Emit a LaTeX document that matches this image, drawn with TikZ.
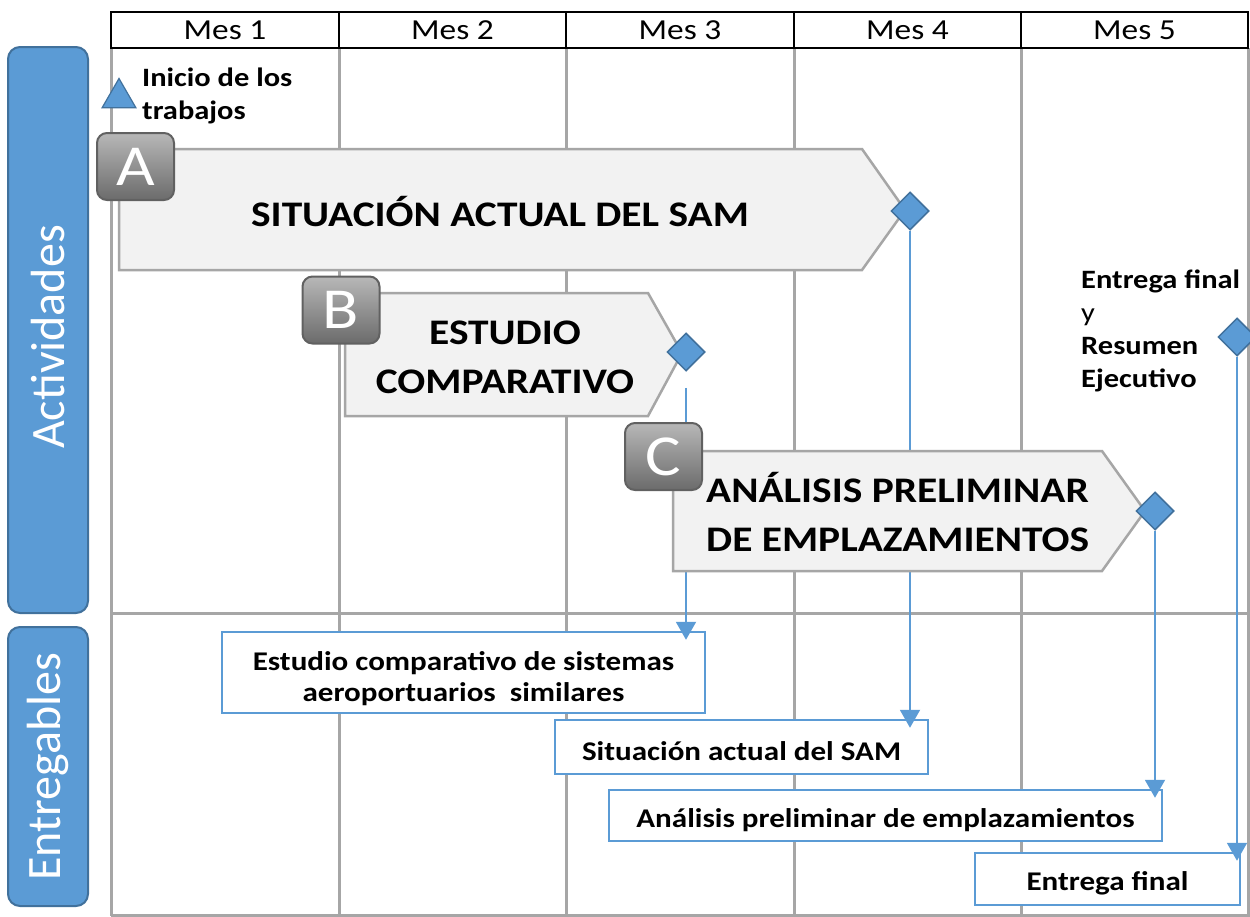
\documentclass[tikz,border=0pt]{standalone}
\usepackage{fontspec}
\setmainfont{Carlito}[FakeStretch=1.15]
\newfontfamily\plainfont{Carlito}
\usetikzlibrary{shapes.geometric,arrows.meta}
\definecolor{blu}{HTML}{5B9BD5}
\definecolor{bludark}{HTML}{41719C}
\definecolor{gridgray}{HTML}{A6A6A6}
\definecolor{shapefill}{HTML}{F2F2F2}
\pgfdeclarelayer{bg}
\pgfdeclarelayer{mid}
\pgfsetlayers{bg,mid,main}
\newcommand{\dstrut}[1]{\rule{0pt}{#1}}
\begin{document}
\begin{tikzpicture}[x=1pt,y=-1pt,
  gridline/.style={draw=gridgray,line width=3pt},
  hdr/.style={draw=black,line width=2.5pt,fill=white,minimum height=36pt,inner sep=0pt,
    font=\fontsize{29}{30}\selectfont},
  side/.style={rotate=90,draw=bludark,line width=2pt,fill=blu,rounded corners=12pt,
    minimum height=80pt,inner sep=0pt,text=white,font=\plainfont\fontsize{48}{50}\selectfont},
  actshape/.style={draw=gridgray,fill=shapefill,line width=2.5pt,line join=miter},
  bigtext/.style={inner sep=0pt,font=\bfseries\fontsize{36}{49}\selectfont},
  badge/.style={rounded corners=10pt,minimum width=77pt,minimum height=67pt,inner sep=0pt,
    top color=black!28,bottom color=black!58,draw=black!62,line width=2pt,
    text=white,font=\fontsize{58}{60}\selectfont},
  mile/.style={diamond,minimum width=38pt,minimum height=38pt,inner sep=0pt,
    fill=blu,draw=bludark,line width=1.5pt},
  note/.style={inner sep=0pt,align=left,font=\bfseries\fontsize{26.5}{33}\selectfont},
  deliv/.style={draw=blu,line width=2.5pt,fill=white,inner sep=0pt,align=center,
    font=\bfseries\fontsize{27}{31}\selectfont},
  conn/.style={draw=blu,line width=2pt,-{Triangle[width=20pt,length=18pt]},shorten >=-9pt}
]
\useasboundingbox (0,0) rectangle (1250,916);

% grid and deliverable boxes (background)
\begin{pgfonlayer}{bg}
  \fill[white] (0,0) rectangle (1250,916);
  \foreach \gx in {111,339,566,794,1021,1248}{\draw[gridline] (\gx,48) -- (\gx,916);}
  \draw[gridline] (111,613) -- (1250,613);
  \draw[gridline] (111,915) -- (1250,915);
  \node[deliv,minimum width=483pt,minimum height=81pt] (est) at (463.5,672.5)
    {\dstrut{32pt}Estudio comparativo de sistemas\\aeroportuarios~ similares};
  \node[deliv,minimum width=373pt,minimum height=54pt] (sam) at (741.5,747) {\dstrut{27pt}Situación actual del SAM};
  \node[deliv,minimum width=553pt,minimum height=51pt] (apl) at (885.5,815.5) {\dstrut{29pt}Análisis preliminar de emplazamientos};
  \node[deliv,minimum width=265pt,minimum height=52pt] (fin) at (1107.5,879) {\dstrut{28pt}Entrega final};
\end{pgfonlayer}

% header
\node[hdr,minimum width=228pt] (m1) at (225,30) {Mes 1};
\node[hdr,minimum width=227pt] (m2) at (452.5,30) {Mes 2};
\node[hdr,minimum width=228pt] (m3) at (680,30) {Mes 3};
\node[hdr,minimum width=227pt] (m4) at (907.5,30) {Mes 4};
\node[hdr,minimum width=227pt] (m5) at (1134.5,30) {Mes 5};

% side labels
\node[side,minimum width=566pt] (act) at (48,330) {Actividades\hspace*{14pt}};
\node[side,minimum width=279pt] (ent) at (48,766.5) {Entregables};

% start marker
\node[regular polygon,regular polygon sides=3,minimum size=39pt,inner sep=0pt,
  fill=blu,draw=bludark,line width=1.2pt] (ini) at (119,98) {};
\node[note,anchor=west] (initxt) at (142,96) {Inicio de los\\trabajos};

% activity A
\path[actshape] (119,149) -- (862,149) -- (905,210) -- (862,270) -- (119,270) -- cycle;
\node[bigtext] (atxt) at (500,212) {SITUACIÓN ACTUAL DEL SAM};
\node[badge] (ba) at (135.5,166.5) {A};
\node[mile] (dA) at (910,211) {};

% activity B
\path[actshape] (345,293) -- (648,293) -- (682,353) -- (648,416) -- (345,416) -- cycle;
\node[bigtext,align=center] (btxt) at (505,357) {ESTUDIO\\COMPARATIVO};
\node[badge] (bb) at (341,310) {B};
\node[mile] (dB) at (686,352) {};

% connectors running behind activity C
\begin{pgfonlayer}{mid}
  \draw[conn] (dA.south) -- (dA.south |- sam.north);
  \draw[conn,shorten <=16pt] (dB.south) -- (dB.south |- est.north);
\end{pgfonlayer}

% activity C
\path[actshape] (673,451) -- (1102,451) -- (1145,511) -- (1102,571) -- (673,571) -- cycle;
\node[bigtext,align=left,anchor=west] (ctxt) at (706,512) {ANÁLISIS PRELIMINAR\\DE EMPLAZAMIENTOS};
\node[badge] (bc) at (663.5,456.5) {C};
\node[mile] (dC) at (1155,511) {};

% final milestone
\node[mile] (dE) at (1237,337) {};
\node[note,anchor=west] (etxt) at (1081,331) {Entrega final\\{\mdseries y}\\Resumen\\Ejecutivo};

\begin{pgfonlayer}{mid}
  \draw[conn] (dC.south) -- (dC.south |- apl.north);
  \draw[conn] (dE.south) -- (dE.south |- fin.north);
\end{pgfonlayer}
\end{tikzpicture}
\end{document}
